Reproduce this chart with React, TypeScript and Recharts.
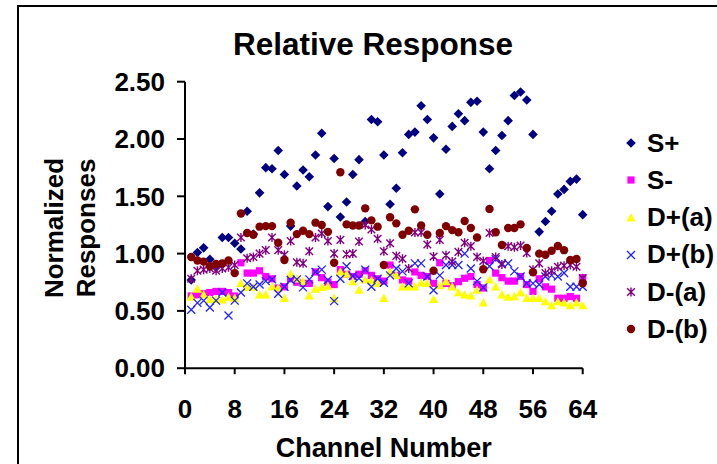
import React from 'react';
import { ScatterChart, Scatter, XAxis, YAxis, Legend } from 'recharts';

const channels = [
  1, 2, 3, 4, 5, 6, 7, 8, 9, 10, 11, 12, 13, 14, 15, 16,
  17, 18, 19, 20, 21, 22, 23, 24, 25, 26, 27, 28, 29, 30, 31, 32,
  33, 34, 35, 36, 37, 38, 39, 40, 41, 42, 43, 44, 45, 46, 47, 48,
  49, 50, 51, 52, 53, 54, 55, 56, 57, 58, 59, 60, 61, 62, 63, 64,
];

const sPlus = [
  0.77, 1.01, 1.05, 0.95, 0.88, 1.14, 1.14, 1.09, 1.04, 1.37, 1.17, 1.53, 1.75, 1.74, 1.9, 1.69,
  1.24, 1.59, 1.73, 1.67, 1.86, 2.05, 1.41, 1.83, 1.32, 1.45, 1.69, 1.82, 1.28, 2.17, 2.15, 1.86,
  1.43, 1.57, 1.88, 2.04, 2.06, 2.29, 2.17, 2.01, 1.52, 1.91, 2.11, 2.22, 2.16, 2.32, 2.33, 2.06,
  1.74, 1.9, 2.03, 2.16, 2.38, 2.41, 2.34, 2.04, 1.19, 1.28, 1.37, 1.52, 1.56, 1.63, 1.65, 1.34,
];

const sMinus = [
  0.63, 0.64, 0.65, 0.66, 0.67, 0.67, 0.66, 0.63, 0.92, 0.83, 0.83, 0.85, 0.8, 0.78, 0.7, 0.71,
  0.78, 0.75, 0.74, 0.74, 0.84, 0.79, 0.75, 0.73, 0.86, 0.82, 0.8, 0.82, 0.85, 0.81, 0.78, 0.76,
  0.9, 0.81, 0.77, 0.76, 0.84, 0.81, 0.8, 0.74, 0.92, 0.74, 0.72, 0.755, 0.785, 0.8, 0.73, 0.7,
  0.94, 0.83, 0.79, 0.76, 0.76, 0.8, 0.73, 0.67, 0.78, 0.71, 0.69, 0.61, 0.61, 0.625, 0.61, 0.79,
];

const dPlusA = [
  0.62, 0.69, 0.64, 0.6, 0.6, 0.595, 0.62, 0.61, 0.74, 0.705, 0.705, 0.64, 0.64, 0.71, 0.7, 0.61,
  0.82, 0.78, 0.755, 0.63, 0.69, 0.705, 0.715, 0.61, 0.84, 0.82, 0.755, 0.68, 0.77, 0.765, 0.74, 0.61,
  0.84, 0.81, 0.71, 0.71, 0.71, 0.745, 0.74, 0.6, 0.72, 0.755, 0.71, 0.66, 0.64, 0.63, 0.68, 0.57,
  0.77, 0.71, 0.64, 0.62, 0.625, 0.66, 0.61, 0.61, 0.61, 0.58, 0.545, 0.58, 0.57, 0.545, 0.57, 0.545,
];

const dPlusB = [
  0.51, 0.57, 0.59, 0.53, 0.59, 0.66, 0.46, 0.59, 0.66, 0.74, 0.71, 0.73, 0.76, 0.775, 0.65, 0.71,
  0.77, 0.775, 0.705, 0.775, 0.84, 0.86, 0.77, 0.585, 0.78, 0.89, 0.805, 0.785, 0.86, 0.71, 0.78, 0.745,
  0.81, 0.87, 0.845, 0.74, 0.915, 0.915, 0.8, 0.68, 0.81, 0.9, 0.9, 0.9, 1.0, 0.87, 0.76, 0.705,
  0.89, 0.95, 0.915, 0.915, 0.845, 0.8, 0.74, 0.74, 0.73, 0.8, 0.81, 0.8, 0.83, 0.71, 0.71, 0.71,
];

const dMinusA = [
  0.78, 0.85, 0.86, 0.87, 0.85, 0.87, 0.88, 0.9, 1.14, 0.96, 0.97, 1.0, 1.03, 1.14, 1.03, 0.99,
  1.11, 0.925, 0.915, 1.02, 1.14, 1.175, 1.11, 1.0, 1.12, 0.995, 1.0, 1.105, 1.25, 1.21, 1.13, 1.02,
  1.09, 0.98, 0.955, 0.87, 1.185, 1.185, 1.08, 0.975, 1.12, 0.985, 0.93, 1.015, 1.095, 1.065, 0.97, 0.935,
  1.18, 0.97, 0.905, 1.065, 1.055, 1.07, 1.005, 0.86, 0.915, 0.83, 0.85, 0.885, 0.895, 0.9, 0.885, 0.785,
];

const dMinusB = [
  0.97, 0.94, 0.93, 0.89, 0.91, 0.915, 0.94, 0.83, 1.35, 1.18, 1.165, 1.235, 1.24, 1.24, 1.095, 0.944,
  1.27, 1.17, 1.2, 1.17, 1.27, 1.25, 1.19, 0.92, 1.71, 1.255, 1.245, 1.245, 1.395, 1.29, 1.235, 0.9,
  1.317, 1.264, 1.165, 1.2, 1.386, 1.245, 1.165, 0.85, 1.18, 1.24, 1.205, 1.186, 1.284, 1.223, 1.14, 0.863,
  1.39, 1.186, 1.075, 1.223, 1.223, 1.255, 1.05, 0.837, 1.0, 0.99, 1.025, 1.066, 1.03, 0.944, 0.953, 0.74,
];

const xTicks = [0, 8, 16, 24, 32, 40, 48, 56, 64];
const yTicks = [0, 0.5, 1, 1.5, 2, 2.5];

const FONT = '"Liberation Sans", Arial, Helvetica, sans-serif';

type Shape = (cx: number, cy: number, c: string) => React.ReactElement;

const diamond: Shape = (cx, cy, c) => (
  <path d={`M${cx},${cy - 4.8}L${cx + 4.8},${cy}L${cx},${cy + 4.8}L${cx - 4.8},${cy}Z`} fill={c} />
);
const square: Shape = (cx, cy, c) => <rect x={cx - 3.6} y={cy - 3.6} width={7.2} height={7.2} fill={c} />;
const triangle: Shape = (cx, cy, c) => (
  <path d={`M${cx},${cy - 4.8}L${cx + 4.6},${cy + 3.6}L${cx - 4.6},${cy + 3.6}Z`} fill={c} />
);
const xMark: Shape = (cx, cy, c) => (
  <path
    d={`M${cx - 4},${cy - 4}L${cx + 4},${cy + 4}M${cx + 4},${cy - 4}L${cx - 4},${cy + 4}`}
    stroke={c}
    strokeWidth={1.3}
    fill="none"
  />
);
const asterisk: Shape = (cx, cy, c) => (
  <path
    d={`M${cx - 3.8},${cy - 3.8}L${cx + 3.8},${cy + 3.8}M${cx + 3.8},${cy - 3.8}L${cx - 3.8},${cy + 3.8}M${cx},${cy - 4.5}L${cx},${cy + 4.5}`}
    stroke={c}
    strokeWidth={1.4}
    fill="none"
  />
);
const circle: Shape = (cx, cy, c) => <circle cx={cx} cy={cy} r={4.2} fill={c} />;

const series = [
  { name: 'S+', values: sPlus, color: '#000080', shape: diamond },
  { name: 'S-', values: sMinus, color: '#FF00FF', shape: square },
  { name: 'D+(a)', values: dPlusA, color: '#FFFF00', shape: triangle },
  { name: 'D+(b)', values: dPlusB, color: '#1F1FFF', shape: xMark },
  { name: 'D-(a)', values: dMinusA, color: '#800080', shape: asterisk },
  { name: 'D-(b)', values: dMinusB, color: '#800000', shape: circle },
];

const tickStyle = { fontSize: 26, fontWeight: 700, fill: '#000', fontFamily: FONT };

const renderLegend = (props: any) => {
  const payload = [...(props.payload || [])];
  const idx = (n: string) => series.findIndex((x) => x.name === n);
  payload.sort((a: any, b: any) => idx(a.value) - idx(b.value));
  return (
    <div style={{ fontFamily: FONT, fontSize: 26, fontWeight: 700, color: '#000' }}>
      {payload.map((entry: any) => {
        const s = series.find((x) => x.name === entry.value);
        if (!s) return null;
        return (
          <div key={s.name} style={{ height: 37.2, display: 'flex', alignItems: 'center' }}>
            <svg width={20} height={20} style={{ display: 'block' }}>
              {s.shape(10, 10, s.color)}
            </svg>
            <span style={{ marginLeft: 6, lineHeight: '37px' }}>{s.name}</span>
          </div>
        );
      })}
    </div>
  );
};

export default function App() {
  return (
    <div
      style={{
        position: 'absolute',
        left: 0,
        top: 0,
        width: 717,
        height: 464,
        overflow: 'hidden',
        background: '#fff',
      }}
    >
      <div
        style={{
          position: 'absolute',
          left: 17,
          top: 5,
          width: 900,
          height: 700,
          borderLeft: '2px solid #000',
          borderTop: '2px solid #000',
        }}
      />
      <div style={{ position: 'absolute', left: 0, top: 0 }}>
        <ScatterChart
          width={717}
          height={464}
          margin={{ top: 81.7, right: 134.3, bottom: 35.8, left: 125 }}
        >
          <text
            x={373}
            y={55}
            textAnchor="middle"
            style={{ fontSize: 31.5, fontWeight: 700, fontFamily: FONT, fill: '#000' }}
          >
            Relative Response
          </text>
          <XAxis
            type="number"
            dataKey="ch"
            domain={[0, 64]}
            ticks={xTicks}
            interval={0}
            height={60}
            tickSize={6}
            tickMargin={25}
            tick={tickStyle}
            axisLine={{ stroke: '#000', strokeWidth: 2 }}
            tickLine={{ stroke: '#000', strokeWidth: 2 }}
            label={{
              content: (p: any) => {
                const vb = p.viewBox || {};
                return (
                  <text
                    x={(vb.x || 0) + (vb.width || 0) / 2}
                    y={457}
                    textAnchor="middle"
                    style={{ fontSize: 27, fontWeight: 700, fontFamily: FONT, fill: '#000' }}
                  >
                    Channel Number
                  </text>
                );
              },
            }}
          />
          <YAxis
            type="number"
            dataKey="v"
            domain={[0, 2.5]}
            ticks={yTicks}
            interval={0}
            width={60}
            tickSize={8}
            tickMargin={12}
            tick={tickStyle}
            tickFormatter={(v: number) => v.toFixed(2)}
            axisLine={{ stroke: '#000', strokeWidth: 2 }}
            tickLine={{ stroke: '#000', strokeWidth: 2 }}
            label={{
              content: () => (
                <text
                  transform="translate(63,228) rotate(-90)"
                  textAnchor="middle"
                  style={{ fontSize: 26, fontWeight: 700, fontFamily: FONT, fill: '#000' }}
                >
                  <tspan x={0} y={0}>Normalized</tspan>
                  <tspan x={0} y={32}>Responses</tspan>
                </text>
              ),
            }}
          />
          <Legend
            layout="vertical"
            align="center"
            verticalAlign="middle"
            itemSorter={null as any}
            wrapperStyle={{ left: 621, top: 124.7, width: 100 }}
            content={renderLegend}
          />
          {series.map((s) => (
            <Scatter
              key={s.name}
              name={s.name}
              data={channels.map((ch, i) => ({ ch, v: s.values[i] }))}
              fill={s.color}
              legendType="circle"
              isAnimationActive={false}
              shape={(p: any) => s.shape(p.cx, p.cy, s.color)}
            />
          ))}
        </ScatterChart>
      </div>
    </div>
  );
}
